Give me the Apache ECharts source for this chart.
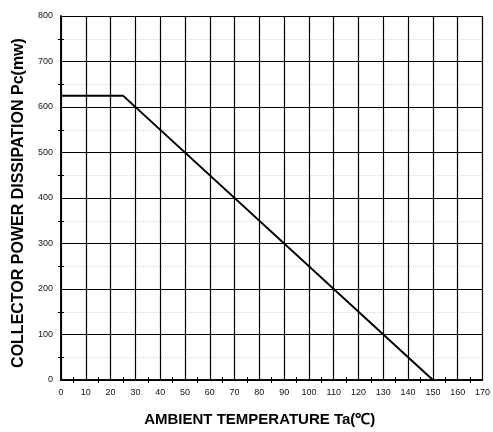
<!DOCTYPE html>
<html><head><meta charset="utf-8">
<script src="https://cdn.jsdelivr.net/npm/echarts@6/dist/echarts.min.js"></script>
<style>html,body{margin:0;padding:0;background:#fff}#c{width:493px;height:432px}</style>
</head><body><div id="c"></div>
<script>
const temperatures = [0, 25, 150];
const powerDissipation = [625, 625, 0];
const xTitle = 'AMBIENT TEMPERATURE Ta(\u2103)';
const yTitle = 'COLLECTOR POWER DISSIPATION Pc(mw)';

const chart = echarts.init(document.getElementById('c'));
const lbl = {color:'#111', fontSize:9, fontFamily:'Arial, Liberation Sans'};
const mt = {show:true, splitNumber:2, length:3, lineStyle:{color:'#000'}};
const baseX = {
  type:'value', min:0, max:170, interval:10,
  axisLine:{show:true, lineStyle:{color:'#000', width:1.5}},
  axisTick:{show:false, inside:true},
  minorTick:mt,
  splitLine:{show:false}
};
const baseY = {
  type:'value', min:0, max:800, interval:100,
  axisLine:{show:true, lineStyle:{color:'#000', width:1.5}},
  axisTick:{show:false, inside:true},
  minorTick:mt,
  splitLine:{show:false}
};
chart.setOption({
  animation:false,
  backgroundColor:'#fff',
  grid:{left:61, right:7, top:16, bottom:50},
  xAxis:[
    Object.assign({}, baseX, {
      position:'bottom',
      axisLabel:Object.assign({margin:8}, lbl),
      splitLine:{show:true, lineStyle:{color:'#000', width:1.2}},
      name:xTitle, nameLocation:'middle', nameGap:32,
      nameTextStyle:{fontSize:15, fontWeight:'bold', color:'#000', fontFamily:'Arial, Liberation Sans', padding:[0,24,0,0]}
    }),
    Object.assign({}, baseX, {position:'top', axisLabel:{show:false}})
  ],
  yAxis:[
    Object.assign({}, baseY, {
      position:'left',
      axisLabel:Object.assign({margin:8}, lbl),
      splitLine:{show:true, lineStyle:{color:'#000', width:1.2}},
      minorSplitLine:{show:true, lineStyle:{color:'#d8d8d8', type:'dotted', width:1}},
      name:yTitle, nameLocation:'middle', nameGap:34,
      nameTextStyle:{fontSize:16, fontWeight:'bold', color:'#000', fontFamily:'Arial, Liberation Sans', padding:[0,10,0,0]}
    }),
    Object.assign({}, baseY, {position:'right', axisLabel:{show:false}})
  ],
  series:[{
    type:'line',
    data:temperatures.map((t,i)=>[t, powerDissipation[i]]),
    showSymbol:false,
    lineStyle:{color:'#000', width:2},
    z:5
  }]
});
</script></body></html>
